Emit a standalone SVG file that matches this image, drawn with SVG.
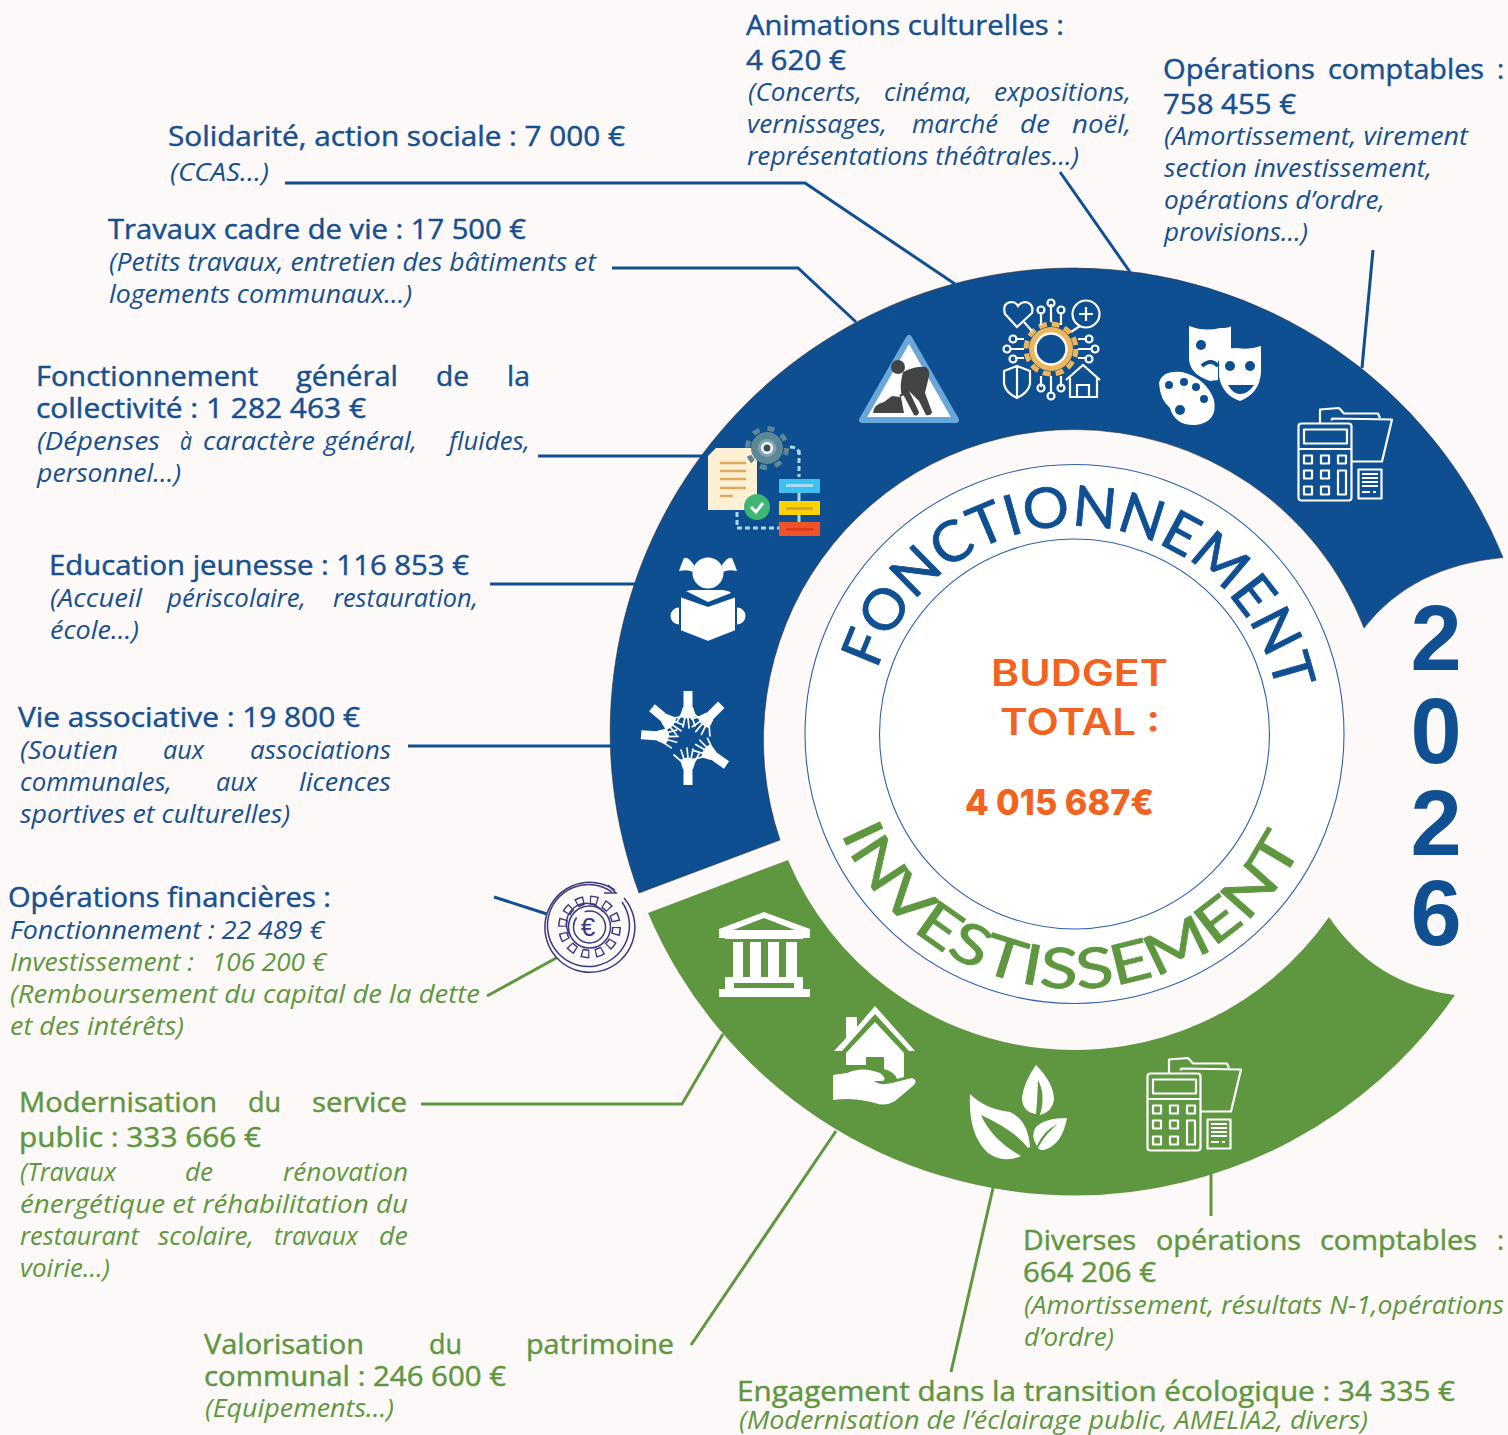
<svg xmlns="http://www.w3.org/2000/svg" width="1508" height="1435" viewBox="0 0 1508 1435">
<style>
text{font-family:"Open Sans","Noto Sans","Liberation Sans",sans-serif}
.t{font-size:27px;font-weight:400;stroke-width:.45}
.t.b{stroke:#16508f}.t.g{stroke:#5f9741}
.i{font-size:25px;font-style:italic;transform:translateY(-1px)}
.b{fill:#16508f}.g{fill:#5f9741}
.c{fill:none;stroke-width:3}
.cb{stroke:#0f4f92}.cg{stroke:#5f9741}
.w{fill:#fff}
.ws{fill:none;stroke:#fff}
.arc{font-family:"Lato","Open Sans",sans-serif;font-size:56px;stroke-width:.8;stroke-linejoin:round}
.o{font-family:"Inter","Liberation Sans",sans-serif;fill:#f26322;font-weight:600}
.yr{font-family:"Liberation Sans",sans-serif;font-weight:700;font-size:92px;fill:#0f4f92;text-anchor:middle}
</style>
<defs>
<g id="calc" fill="none" stroke="#fff" stroke-width="2.200" stroke-linejoin="round">
<rect x="1298.500" y="423.500" width="53" height="77" rx="3"/>
<rect x="1304" y="429.500" width="43" height="14"/>
<path d="M1299 449H1351"/>
<rect x="1304" y="455.500" width="8" height="8"/><rect x="1321" y="455.500" width="8" height="8"/><rect x="1338" y="455.500" width="8" height="8"/>
<rect x="1304" y="470.500" width="8" height="8"/><rect x="1321" y="470.500" width="8" height="8"/>
<rect x="1304" y="486.500" width="8" height="8"/><rect x="1321" y="486.500" width="8" height="8"/>
<rect x="1338" y="470.500" width="8" height="24"/>
<path d="M1320 423V409.500L1339 408L1344 413.500H1378L1380 418"/>
<path d="M1331 420L1333 418.500L1392 419.500L1382 461.500H1352"/>
<rect x="1358.500" y="469.500" width="23" height="29"/>
<path d="M1362 474H1378M1362 478H1378M1362 482H1378M1362 486H1378M1362 492H1370M1373 492H1376"/>
</g>
<g id="hand" fill="#fff">
<rect x="-4.500" y="28" width="9" height="19"/>
<path d="M-8 22Q0 17 8 22L5 31H-5Z"/>
<path d="M-7 23L-14 17M-4 21L-7 12M0 20L-1 10M3 21L5 11M7 23L11 16" fill="none" stroke="#fff" stroke-width="1.700" stroke-linecap="round"/>
</g>
</defs>
<rect width="1508" height="1435" fill="#fdf9f8"/>

<g id="ring">
<path id="blue-ring" fill="#0e4f92" stroke="#333" stroke-width=".6" d="M639 893A464 464 0 0 1 1074.600 268A464 464 0 0 1 1503 557.500Q1412 566 1364 628A310.500 310.500 0 0 0 1074 429.500A310.500 310.500 0 0 0 780 840Z"/>
<path id="green-ring" fill="#5f9741" d="M648 913L788 860A310.500 310.500 0 0 0 1329 917Q1375 985 1455 995A464 464 0 0 1 1075 1195.500A464 464 0 0 1 648 913Z"/>
<circle cx="1074.500" cy="734" r="269.500" fill="#fff" stroke="#2d62ad" stroke-width="1.100"/>
<circle cx="1074.500" cy="734" r="195" fill="#fff" stroke="#2d62ad" stroke-width="1.100"/>
<path id="pt" fill="none" d="M877 670A207 207 0 0 1 1278 697"/>
<path id="pb" fill="none" d="M841 833A253 253 0 0 0 1302 846"/>
<text class="arc" fill="#0f4f92" stroke="#0f4f92"><textPath href="#pt" textLength="545" lengthAdjust="spacingAndGlyphs">FONCTIONNEMENT</textPath></text>
<text class="arc" fill="#5f9741" stroke="#5f9741"><textPath href="#pb" textLength="580" lengthAdjust="spacingAndGlyphs">INVESTISSEMENT</textPath></text>
</g>

<g id="center-total">
<text class="o" x="991" y="686" font-size="37" textLength="177" lengthAdjust="spacingAndGlyphs">BUDGET</text>
<text class="o" x="1000" y="735" font-size="37" textLength="160" lengthAdjust="spacingAndGlyphs">TOTAL :</text>
<text class="o" x="965" y="815" font-size="36" style="font-weight:800" textLength="189" lengthAdjust="spacingAndGlyphs">4 015 687€</text>
</g>

<g id="year">
<text class="yr" x="1436" y="670">2</text><text class="yr" x="1436" y="763">0</text><text class="yr" x="1436" y="855">2</text><text class="yr" x="1436" y="945">6</text>
</g>

<g id="connectors">
<path class="c cb" d="M285 183H805L955 284"/>
<path class="c cb" d="M1060 172L1130 272"/>
<path class="c cb" d="M1373 250L1362 368"/>
<path class="c cb" d="M612 268H798L856 322"/>
<path class="c cb" d="M538 456H705"/>
<path class="c cb" d="M490 584H636"/>
<path class="c cb" d="M408 746H611"/>
<path class="c cb" d="M494 897L547 914"/>
<path class="c cg" d="M487 996L558 957"/>
<path class="c cg" d="M421 1104H682L723 1034"/>
<path class="c cg" d="M691 1345L836 1131"/>
<path class="c cg" d="M951 1372L993 1188"/>
<path class="c cg" d="M1211 1172V1216"/>
</g>

<g id="node-animations">
<text class="t b" x="746" y="35" textLength="318" lengthAdjust="spacingAndGlyphs">Animations culturelles :</text>
<text class="t b" x="746" y="70" textLength="100" lengthAdjust="spacingAndGlyphs">4 620 €</text>
<text class="i b" y="102"><tspan x="748" textLength="114" lengthAdjust="spacingAndGlyphs">(Concerts,</tspan> <tspan x="884" textLength="88" lengthAdjust="spacingAndGlyphs">cinéma,</tspan> <tspan x="994" textLength="137" lengthAdjust="spacingAndGlyphs">expositions,</tspan></text>
<text class="i b" y="134"><tspan x="747" textLength="140" lengthAdjust="spacingAndGlyphs">vernissages,</tspan> <tspan x="912" textLength="86" lengthAdjust="spacingAndGlyphs">marché</tspan> <tspan x="1020" textLength="30" lengthAdjust="spacingAndGlyphs">de</tspan> <tspan x="1072" textLength="59" lengthAdjust="spacingAndGlyphs">noël,</tspan></text>
<text class="i b" x="747" y="166" textLength="332" lengthAdjust="spacingAndGlyphs">représentations théâtrales…)</text>
</g>

<g id="node-operations-comptables">
<text class="t b" y="79"><tspan x="1163" textLength="152" lengthAdjust="spacingAndGlyphs">Opérations</tspan> <tspan x="1328" textLength="156" lengthAdjust="spacingAndGlyphs">comptables</tspan> <tspan x="1497">:</tspan></text>
<text class="t b" x="1163" y="114" textLength="133" lengthAdjust="spacingAndGlyphs">758 455 €</text>
<text class="i b" x="1164" y="146" textLength="304" lengthAdjust="spacingAndGlyphs">(Amortissement, virement</text>
<text class="i b" x="1164" y="178" textLength="268" lengthAdjust="spacingAndGlyphs">section investissement,</text>
<text class="i b" x="1164" y="210" textLength="221" lengthAdjust="spacingAndGlyphs">opérations d’ordre,</text>
<text class="i b" x="1164" y="242" textLength="144" lengthAdjust="spacingAndGlyphs">provisions…)</text>
</g>

<g id="node-solidarite">
<text class="t b" x="168" y="146" textLength="457" lengthAdjust="spacingAndGlyphs">Solidarité, action sociale : 7 000 €</text>
<text class="i b" x="170" y="182" textLength="99" lengthAdjust="spacingAndGlyphs">(CCAS…)</text>
</g>

<g id="node-travaux">
<text class="t b" x="108" y="239" textLength="418" lengthAdjust="spacingAndGlyphs">Travaux cadre de vie : 17 500 €</text>
<text class="i b" x="109" y="272" textLength="487" lengthAdjust="spacingAndGlyphs">(Petits travaux, entretien des bâtiments et</text>
<text class="i b" x="109" y="304" textLength="303" lengthAdjust="spacingAndGlyphs">logements communaux…)</text>
</g>

<g id="node-fonctionnement-general">
<text class="t b" y="386"><tspan x="36" textLength="222" lengthAdjust="spacingAndGlyphs">Fonctionnement</tspan> <tspan x="296" textLength="102" lengthAdjust="spacingAndGlyphs">général</tspan> <tspan x="436" textLength="33" lengthAdjust="spacingAndGlyphs">de</tspan> <tspan x="507" textLength="23" lengthAdjust="spacingAndGlyphs">la</tspan></text>
<text class="t b" x="36" y="418" textLength="330" lengthAdjust="spacingAndGlyphs">collectivité : 1 282 463 €</text>
<text class="i b" y="451"><tspan x="37" textLength="123" lengthAdjust="spacingAndGlyphs">(Dépenses</tspan> <tspan x="180" textLength="12" lengthAdjust="spacingAndGlyphs">à</tspan> <tspan x="203" textLength="112" lengthAdjust="spacingAndGlyphs">caractère</tspan> <tspan x="324" textLength="93" lengthAdjust="spacingAndGlyphs">général,</tspan> <tspan x="449" textLength="81" lengthAdjust="spacingAndGlyphs">fluides,</tspan></text>
<text class="i b" x="37" y="483" textLength="144" lengthAdjust="spacingAndGlyphs">personnel…)</text>
</g>

<g id="node-education">
<text class="t b" x="49" y="575" textLength="420" lengthAdjust="spacingAndGlyphs">Education jeunesse : 116 853 €</text>
<text class="i b" y="608"><tspan x="50" textLength="92" lengthAdjust="spacingAndGlyphs">(Accueil</tspan> <tspan x="167" textLength="139" lengthAdjust="spacingAndGlyphs">périscolaire,</tspan> <tspan x="333" textLength="145" lengthAdjust="spacingAndGlyphs">restauration,</tspan></text>
<text class="i b" x="50" y="640" textLength="89" lengthAdjust="spacingAndGlyphs">école…)</text>
</g>

<g id="node-vie-associative">
<text class="t b" x="18" y="727" textLength="342" lengthAdjust="spacingAndGlyphs">Vie associative : 19 800 €</text>
<text class="i b" y="760"><tspan x="20" textLength="98" lengthAdjust="spacingAndGlyphs">(Soutien</tspan> <tspan x="163" textLength="41" lengthAdjust="spacingAndGlyphs">aux</tspan> <tspan x="250" textLength="141" lengthAdjust="spacingAndGlyphs">associations</tspan></text>
<text class="i b" y="792"><tspan x="20" textLength="152" lengthAdjust="spacingAndGlyphs">communales,</tspan> <tspan x="216" textLength="41" lengthAdjust="spacingAndGlyphs">aux</tspan> <tspan x="299" textLength="92" lengthAdjust="spacingAndGlyphs">licences</tspan></text>
<text class="i b" x="20" y="824" textLength="270" lengthAdjust="spacingAndGlyphs">sportives et culturelles)</text>
</g>

<g id="node-operations-financieres">
<text class="t b" x="8" y="907" textLength="323" lengthAdjust="spacingAndGlyphs">Opérations financières :</text>
<text class="i b" x="10" y="940" textLength="314" lengthAdjust="spacingAndGlyphs">Fonctionnement : 22 489 €</text>
<text class="i g" y="972"><tspan x="10" textLength="184" lengthAdjust="spacingAndGlyphs">Investissement :</tspan> <tspan x="212" textLength="114" lengthAdjust="spacingAndGlyphs">106 200 €</tspan></text>
<text class="i g" x="10" y="1004" textLength="470" lengthAdjust="spacingAndGlyphs">(Remboursement du capital de la dette</text>
<text class="i g" x="10" y="1036" textLength="174" lengthAdjust="spacingAndGlyphs">et des intérêts)</text>
</g>

<g id="node-modernisation">
<text class="t g" y="1112"><tspan x="19" textLength="198" lengthAdjust="spacingAndGlyphs">Modernisation</tspan> <tspan x="248" textLength="33" lengthAdjust="spacingAndGlyphs">du</tspan> <tspan x="312" textLength="95" lengthAdjust="spacingAndGlyphs">service</tspan></text>
<text class="t g" x="19" y="1147" textLength="242" lengthAdjust="spacingAndGlyphs">public : 333 666 €</text>
<text class="i g" y="1182"><tspan x="20" textLength="96" lengthAdjust="spacingAndGlyphs">(Travaux</tspan> <tspan x="185" textLength="28" lengthAdjust="spacingAndGlyphs">de</tspan> <tspan x="283" textLength="125" lengthAdjust="spacingAndGlyphs">rénovation</tspan></text>
<text class="i g" x="20" y="1214" textLength="388" lengthAdjust="spacingAndGlyphs">énergétique et réhabilitation du</text>
<text class="i g" y="1246"><tspan x="20" textLength="119" lengthAdjust="spacingAndGlyphs">restaurant</tspan> <tspan x="158" textLength="96" lengthAdjust="spacingAndGlyphs">scolaire,</tspan> <tspan x="274" textLength="84" lengthAdjust="spacingAndGlyphs">travaux</tspan> <tspan x="379" textLength="29" lengthAdjust="spacingAndGlyphs">de</tspan></text>
<text class="i g" x="20" y="1278" textLength="90" lengthAdjust="spacingAndGlyphs">voirie…)</text>
</g>

<g id="node-valorisation">
<text class="t g" y="1354"><tspan x="204" textLength="160" lengthAdjust="spacingAndGlyphs">Valorisation</tspan> <tspan x="429" textLength="33" lengthAdjust="spacingAndGlyphs">du</tspan> <tspan x="526" textLength="148" lengthAdjust="spacingAndGlyphs">patrimoine</tspan></text>
<text class="t g" x="204" y="1386" textLength="302" lengthAdjust="spacingAndGlyphs">communal : 246 600 €</text>
<text class="i g" x="205" y="1418" textLength="189" lengthAdjust="spacingAndGlyphs">(Equipements…)</text>
</g>

<g id="node-engagement">
<text class="t g" x="737" y="1401" textLength="718" lengthAdjust="spacingAndGlyphs">Engagement dans la transition écologique : 34 335 €</text>
<text class="i g" x="739" y="1430" textLength="629" lengthAdjust="spacingAndGlyphs">(Modernisation de l’éclairage public, AMELIA2, divers)</text>
</g>

<g id="node-diverses">
<text class="t g" y="1250"><tspan x="1023" textLength="113" lengthAdjust="spacingAndGlyphs">Diverses</tspan> <tspan x="1156" textLength="145" lengthAdjust="spacingAndGlyphs">opérations</tspan> <tspan x="1320" textLength="157" lengthAdjust="spacingAndGlyphs">comptables</tspan> <tspan x="1497">:</tspan></text>
<text class="t g" x="1023" y="1282" textLength="133" lengthAdjust="spacingAndGlyphs">664 206 €</text>
<text class="i g" x="1024" y="1315" textLength="480" lengthAdjust="spacingAndGlyphs">(Amortissement, résultats N-1,opérations</text>
<text class="i g" x="1024" y="1347" textLength="90" lengthAdjust="spacingAndGlyphs">d’ordre)</text>
</g>

<g id="icon-worker">
<path d="M909 338L862 420H956Z" fill="#fff" stroke="#69a7da" stroke-width="6" stroke-linejoin="round"/>
<circle cx="898" cy="367" r="7" fill="#444"/>
<path d="M903 372Q915 366 926 367Q930 370 929 376L925 393L932 412Q931 416 926 415L919 401L909 391L919 412Q918 417 914 415L904 396Q898 392 903 372Z" fill="#444"/>
<path d="M906 374L903 392" stroke="#444" stroke-width="4" stroke-linecap="round"/>
<path d="M873 413Q874 404 884 402L892 396L901 397L904 413Z" fill="#444"/>
<path d="M900 396L914 387" stroke="#444" stroke-width="2.200"/>
</g>

<g id="icon-solidarity">
<circle cx="1051" cy="349" r="22" fill="#edb65a"/>
<circle cx="1051" cy="349" r="25" fill="none" stroke="#edb65a" stroke-width="5" stroke-dasharray="8 5.090"/>
<circle cx="1051" cy="349" r="15.500" fill="#0e4f92" stroke="#fff" stroke-width="2.500"/>
<g class="ws" stroke-width="2.200">
<path d="M1017 327L1005 314Q1002 303 1011 302Q1016 302 1018 306Q1021 302 1026 302Q1034 304 1032 313Z"/>
<path d="M1024 322L1032 331M1080 326L1071 332"/>
<circle cx="1086" cy="314" r="13.500"/>
<path d="M1079 314H1093M1086 307V321"/>
<path d="M1051 322V304M1041 325V312M1061 325V312"/>
<circle cx="1051" cy="303" r="3.500"/><circle cx="1041" cy="310" r="3.500"/><circle cx="1061" cy="310" r="3.500"/>
<path d="M1024 339H1015M1024 349H1010M1024 358H1015M1078 339H1087M1078 349H1092M1078 358H1087"/>
<circle cx="1013" cy="339" r="3.500"/><circle cx="1007" cy="349" r="3.500"/><circle cx="1013" cy="359" r="3.500"/>
<circle cx="1089" cy="339" r="3.500"/><circle cx="1095" cy="349" r="3.500"/><circle cx="1089" cy="359" r="3.500"/>
<path d="M1017 366L1030 371V384Q1028 393 1017 398Q1006 393 1004 384V371ZM1017 366V398"/>
<path d="M1051 376V394M1041 376V387M1061 376V387"/>
<circle cx="1051" cy="396" r="3.500"/><circle cx="1041" cy="388" r="3.500"/><circle cx="1061" cy="388" r="3.500"/>
<path d="M1066 380L1083 365L1100 380M1070 378V397H1097V378M1077 397V385H1089V397"/>
</g>
</g>

<g id="icon-culture">
<path class="w" d="M1189 326Q1205 332 1220 328Q1230 328 1231 326V350Q1222 350 1218 362V380L1210 381Q1191 375 1189 360Z"/>
<path class="w" d="M1219 346Q1225 349 1237 348Q1250 350 1261 346V372Q1260 393 1240 401Q1222 395 1219 376Z"/>
<circle cx="1201" cy="345" r="5" fill="#0e4f92"/>
<path d="M1202 366Q1211 358 1218 366" stroke="#0e4f92" stroke-width="4" fill="none"/>
<circle cx="1230" cy="366" r="5" fill="#0e4f92"/><circle cx="1250" cy="366" r="5" fill="#0e4f92"/>
<path d="M1228 385H1254Q1248 394 1240 394Q1233 394 1228 385Z" fill="#0e4f92"/>
<path class="w" d="M1159 383Q1162 370 1182 372Q1206 378 1214 400Q1218 422 1196 425Q1175 426 1170 408Q1160 400 1159 383Z"/>
<circle cx="1169" cy="385" r="4" fill="#0e4f92"/><circle cx="1184" cy="382" r="4" fill="#0e4f92"/><circle cx="1196" cy="387" r="4" fill="#0e4f92"/><circle cx="1204" cy="399" r="4" fill="#0e4f92"/><circle cx="1180" cy="410" r="5" fill="#0e4f92"/>
</g>

<g id="icon-accounting-blue"><use href="#calc"/></g>

<g id="icon-general">
<path d="M799 450V477M737 512V528H779" fill="none" stroke="#a9dcf2" stroke-width="3" stroke-dasharray="5 3"/>
<path d="M790 447Q799 447 799 454" fill="none" stroke="#a9dcf2" stroke-width="3" stroke-dasharray="5 3"/>
<path d="M799 492V523" stroke="#a9dcf2" stroke-width="3"/>
<path d="M716 448H757V510H708V456Z" fill="#fdf0d3"/>
<path d="M720 463H746M720 471H746M720 479H746M720 488H746M720 496H733" stroke="#dca95d" stroke-width="2.500" fill="none"/>
<circle cx="767" cy="448" r="16" fill="#5d8697"/>
<circle cx="767" cy="448" r="19.500" fill="none" stroke="#5d8697" stroke-width="5" stroke-dasharray="7 8.300"/>
<circle cx="767" cy="448" r="9" fill="#7fa6b2"/><circle cx="767" cy="448" r="6" fill="#fff"/><circle cx="767" cy="448" r="3.500" fill="#36525b"/>
<circle cx="757" cy="507" r="13" fill="#3fb773"/>
<path d="M751 507L756 512L763 503" fill="none" stroke="#fff" stroke-width="3"/>
<rect x="779" y="479" width="41" height="14" fill="#3fc1f0"/><rect x="786" y="484" width="27" height="3" fill="#a9dcf2"/>
<rect x="779" y="501" width="41" height="14" fill="#ffd200"/><rect x="786" y="507" width="27" height="3" fill="#d6a14a"/>
<rect x="779" y="522" width="41" height="14" fill="#f0522a"/><rect x="786" y="528" width="27" height="2.500" fill="#d63c1f"/>
</g>

<g id="icon-education">
<circle class="w" cx="708" cy="573" r="15.500"/>
<path class="w" d="M694 565Q688 556 684 558Q681 565 679 571Q688 569 693 572ZM722 565Q728 556 732 558Q735 565 737 571Q728 569 723 572Z"/>
<path class="w" d="M686 591Q690 590 694 590H722Q730 591 731 593L708 602Z"/>
<circle class="w" cx="679" cy="616" r="8.500"/><circle class="w" cx="737" cy="616" r="8.500"/>
<path class="w" d="M680 596L708 606L736 596V631L708 642L680 631Z" stroke="#0e4f92" stroke-width="2"/>
</g>

<g id="icon-associations">
<use href="#hand" transform="translate(688 738)"/>
<use href="#hand" transform="translate(688 738) rotate(-55)"/>
<use href="#hand" transform="translate(688 738) rotate(-135)"/>
<use href="#hand" transform="translate(688 738) rotate(180)"/>
<use href="#hand" transform="translate(688 738) rotate(130)"/>
<use href="#hand" transform="translate(688 738) rotate(94)"/>
</g>

<g id="icon-finance" fill="none" stroke="#3b3a7e" stroke-width="1.500">
<circle cx="589.500" cy="927" r="45" fill="#fdf9f8" stroke="none"/>
<path d="M615 890A45 45 0 1 0 624 898"/>
<path d="M612 892A41 41 0 1 0 622 902"/>
<path d="M608 885L616 893L604 893"/>
<circle cx="589.500" cy="927" r="27" stroke-width="9" stroke-dasharray="8 6.130"/>
<circle cx="589.500" cy="927" r="27" stroke="#fdf9f8" stroke-width="6" stroke-dasharray="5.500 8.630" stroke-dashoffset="-1.250"/>
<circle cx="589.500" cy="927" r="21"/>
<path d="M603 912A20 20 0 0 0 570 935"/>
<circle cx="589.500" cy="927" r="16" stroke-dasharray="60 10"/>
<text x="588" y="936" font-size="26" style="font-family:'Liberation Sans',sans-serif" text-anchor="middle" fill="#3b3a7e" stroke="none">€</text>
</g>

<g id="icon-bank">
<path class="w" fill-rule="evenodd" d="M764 912L810 929V938H719V929ZM764 918L733 930H795Z"/>
<rect class="w" x="725" y="930" width="78" height="9"/>
<rect class="w" x="733" y="942" width="10" height="36"/><rect class="w" x="750" y="942" width="11" height="36"/><rect class="w" x="768" y="942" width="11" height="36"/><rect class="w" x="786" y="942" width="11" height="36"/>
<path class="w" fill-rule="evenodd" d="M725 977H803V989H810V997H719V989H725ZM734 983V988H794V983Z"/>
</g>

<g id="icon-house">
<path class="w" d="M834 1051L846 1038V1017H857V1027L875 1006L915 1051H909L875 1014L842 1051Z"/>
<path class="w" d="M846 1053L875 1022L904 1053V1077L897 1079Q895 1072 884 1069V1057H866V1065L846 1065Z"/>
<path class="w" d="M833 1075L847 1073Q862 1066 880 1073Q887 1078 883 1081H874Q880 1086 892 1083L912 1078Q918 1080 914 1085L895 1101Q885 1107 875 1103Q852 1097 833 1100Z"/>
</g>

<g id="icon-ecology">
<path class="w" d="M970 1094Q985 1109 1010 1112Q1028 1120 1030 1147L1028 1148Q1014 1130 981 1115Q992 1140 1021 1156Q1004 1164 988 1153Q968 1135 970 1094Z"/>
<path class="w" d="M1036 1065Q1054 1083 1054 1100Q1052 1112 1040 1115Q1046 1095 1038 1080Q1037 1105 1036 1114Q1022 1112 1022 1097Q1024 1082 1036 1065Z"/>
<path class="w" d="M1067 1118Q1062 1145 1044 1150Q1036 1150 1039 1146Q1047 1132 1058 1124Q1044 1130 1037 1146Q1030 1135 1036 1127Q1045 1118 1067 1118Z"/>
</g>

<g id="icon-accounting-green"><use href="#calc" transform="translate(-151 650)"/></g>
</svg>
